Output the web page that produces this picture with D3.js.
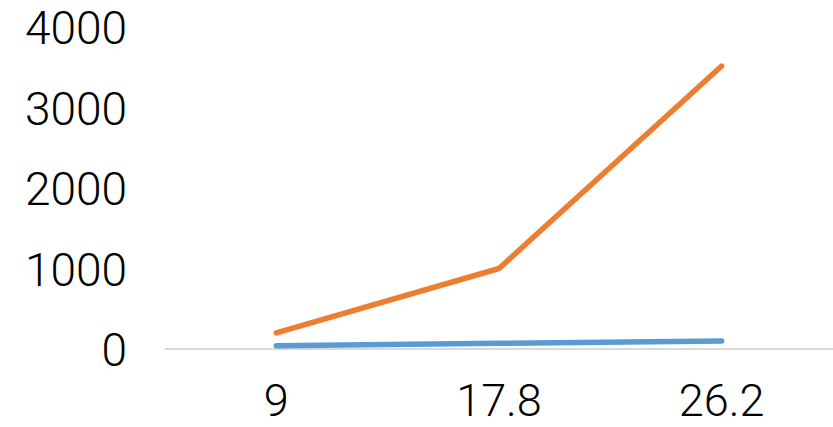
<!DOCTYPE html>
<html><head><meta charset="utf-8">
<script src="https://cdn.jsdelivr.net/npm/d3@7"></script>
<style>body{margin:0;background:#fff}svg{display:block}</style>
</head><body>
<svg id="c" width="833" height="427"></svg>
<script>
const categories = ["9", "17.8", "26.2"];
const seriesBlue = [40, 70, 100];
const seriesOrange = [200, 1000, 3515];
const yTicks = [0, 1000, 2000, 3000, 4000];

(function () {
const svg = d3.select("#c");
const mLeft = 165, mRight = 833, mTop = 27, mBottom = 349;
const x = d3.scaleBand().domain(categories).range([mLeft, mRight]);
const y = d3.scaleLinear().domain([0, 4000]).range([mBottom, mTop]);
const font = "Roboto, 'Liberation Sans', Helvetica, Arial, sans-serif";

const yAxis = d3.axisLeft(y).tickValues(yTicks).tickSize(0).tickPadding(0).tickFormat(d3.format("d"));
const ga = svg.append("g").attr("transform", "translate(127,0)").call(yAxis);
ga.select(".domain").remove();
ga.selectAll("text").attr("font-family", font).attr("font-weight", 300).attr("font-size", 46).attr("fill", "#000").attr("dy", "0.36em");

svg.append("line").attr("x1", mLeft).attr("x2", mRight).attr("y1", y(0)).attr("y2", y(0))
  .attr("stroke", "#d9d9d9").attr("stroke-width", 2);

const xAxis = d3.axisBottom(x).tickSize(0).tickPadding(0);
const gx = svg.append("g").attr("transform", "translate(0,384)").call(xAxis);
gx.select(".domain").remove();
gx.selectAll("text").attr("font-family", font).attr("font-weight", 300).attr("font-size", 45).attr("fill", "#000").attr("dy", "0.71em");

const line = d3.line().x((d, i) => x(categories[i]) + x.bandwidth() / 2).y(d => y(d));
svg.append("path").datum(seriesBlue).attr("d", line).attr("fill", "none")
  .attr("stroke", "#5B9BD5").attr("stroke-width", 5.5).attr("stroke-linecap", "round").attr("stroke-linejoin", "round");
svg.append("path").datum(seriesOrange).attr("d", line).attr("fill", "none")
  .attr("stroke", "#ED7D31").attr("stroke-width", 5.5).attr("stroke-linecap", "round").attr("stroke-linejoin", "round");
})();
</script>
</body></html>
